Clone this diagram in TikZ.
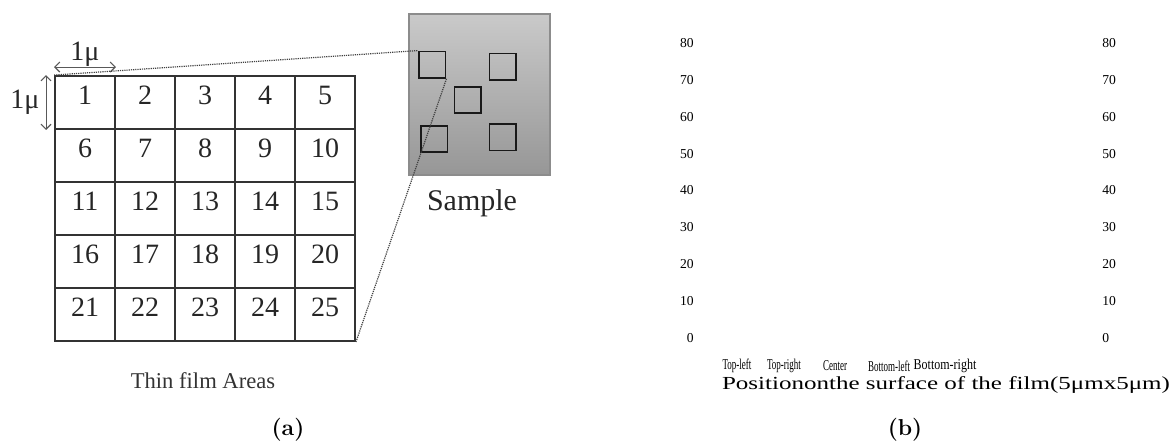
\documentclass[tikz,border=0pt]{standalone}
\usepackage{fontspec}
\usepackage{tikz}
\usetikzlibrary{arrows.meta,positioning}
\newfontfamily\filmfont{Liberation Serif}
\tikzset{
  film/cell/.style={draw=black!80, line width=0.95pt, minimum width=30pt, minimum height=26.5pt, inner sep=0pt},
  film/num/.style={font=\filmfont\fontsize{14}{16}\selectfont, text=black!85, yshift=-2pt},
  film/sample/.style={draw=black!45, line width=0.6pt, top color=black!21, bottom color=black!41, minimum width=70.5pt, minimum height=80.5pt, inner sep=0pt},
  film/spot/.style={draw=black!90, line width=0.85pt, minimum size=13.3pt, inner sep=0pt},
  film/zoom/.style={draw=black!75, line width=0.6pt, dash pattern=on 0.6pt off 0.5pt},
  film/dim/.style={{Straight Barb[length=2.5pt]}-{Straight Barb[length=2.5pt]}, draw=black!65, line width=0.55pt},
  film/label/.style={font=\filmfont\fontsize{14}{16}\selectfont, text=black!85, inner sep=1pt},
  film/areas/.style={font=\filmfont\fontsize{11.3}{13}\selectfont, text=black!80, inner sep=0pt},
  chart/ytick/.style={font=\filmfont\fontsize{6.8}{8}\selectfont, inner sep=0pt},
  chart/xtick/.style={font=\filmfont\fontsize{7.5}{9}\selectfont, inner sep=0pt, xscale=#1},
  chart/xtick/.default=0.6,
  chart/title/.style={font=\filmfont\fontsize{9.2}{11}\selectfont, xscale=1.36, inner sep=0pt},
  caption/.style={font=\bfseries\fontsize{11.5}{13}\selectfont}
}

\begin{document}
\begin{tikzpicture}[x=0.5pt, y=-0.5pt]
  \useasboundingbox (0,0) rectangle (1172,441);

  % (a) thin film areas
  \foreach \r in {0,...,4}
    \foreach \c in {0,...,4}{
      \pgfmathtruncatemacro{\n}{5*\r+\c+1}
      \node[film/cell, label={[film/num, anchor=north]north:\n}] (c\n) at (85+60*\c, 102.5+53*\r) {};
    }
  \draw[film/dim] ([yshift=4pt]c1.north west) -- ([yshift=4pt]c1.north east)
    node[midway, above=-1pt, film/label] {1μ};
  \draw[film/dim] ([xshift=-4pt]c1.north west) -- ([xshift=-4pt]c1.south west)
    node[midway, left=2pt, film/label] {1μ};
  \node[film/areas] (areas) at (203,381) {Thin film Areas};

  \node[film/sample] (sample) at (479.5,94.5) {};
  \foreach \i/\x/\y in {1/432.3/64.7, 2/502.7/66.7, 3/467.7/100, 4/434.3/139, 5/502.7/137.2}
    \node[film/spot] (s\i) at (\x,\y) {};
  \node[film/label, font=\filmfont\fontsize{15}{17}\selectfont] (samplename) at (472,203) {Sample};

  \draw[film/zoom] (c1.north west) -- (s1.north west);
  \draw[film/zoom] (c25.south east) -- (s1.south east);

  % (b) empty chart
  \foreach \v in {0,10,...,80}{
    \node[chart/ytick, anchor=east] (yl\v) at (694, 338-3.6875*\v) {\v};
    \node[chart/ytick, anchor=west] (yr\v) at (1102, 338-3.6875*\v) {\v};
  }
  \foreach \name/\x/\txt in {tl/737/Top-left, tr/784/Top-right, ctr/835/Center, bl/889/Bottom-left}
    \node[chart/xtick] (x\name) at (\x,366) {\txt};
  \node[chart/xtick=0.8] (xbr) at (945,366) {Bottom-right};
  \node[chart/title] (xtitle) at (946,385) {Positiononthe surface of the film(5μmx5μm)};

  \node[caption] (capa) at (288,430) {(a)};
  \node[caption] (capb) at (905,430) {(b)};
\end{tikzpicture}
\end{document}
